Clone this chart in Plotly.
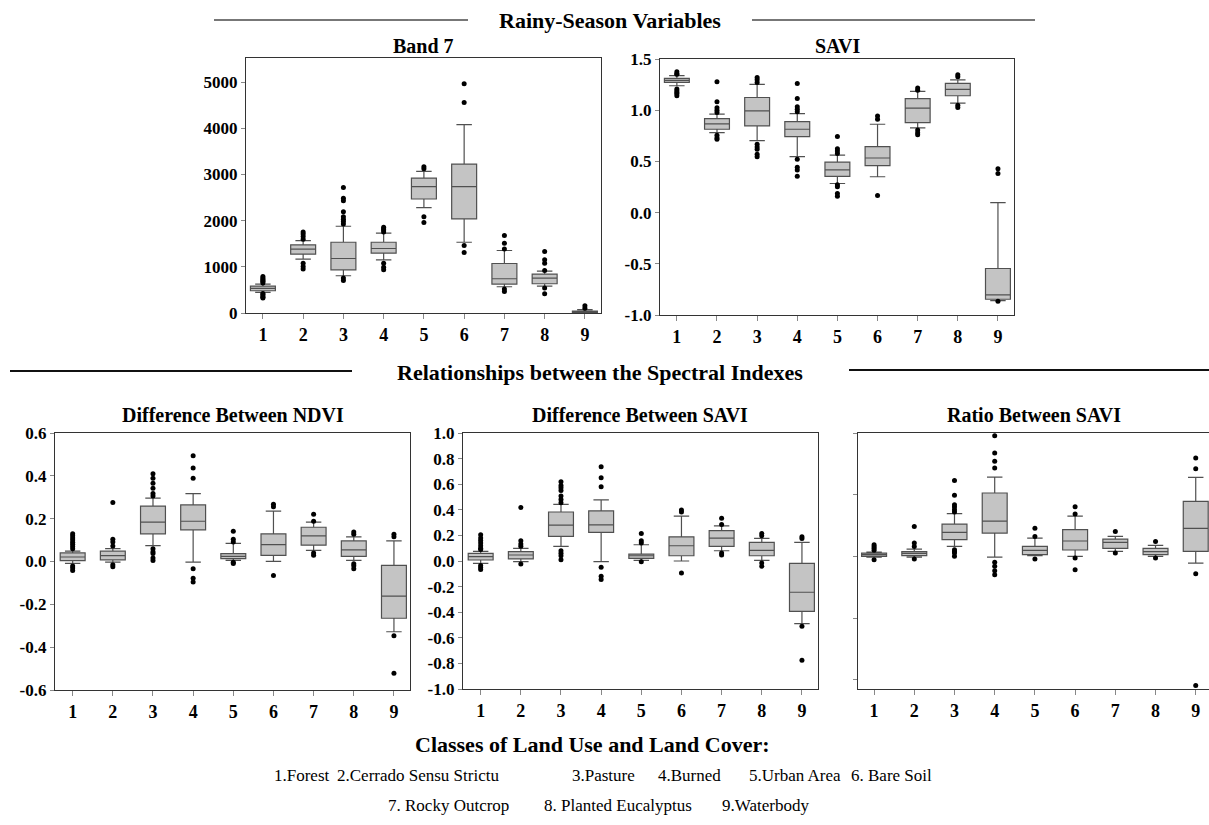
import plotly.graph_objects as go

classes = [1, 2, 3, 4, 5, 6, 7, 8, 9]
class_labels = ["1", "2", "3", "4", "5", "6", "7", "8", "9"]

# ---- Band 7 ----
b7_q1 = [482, 1273, 935, 1295, 2468, 2036, 626, 633, 7]
b7_med = [532, 1381, 1180, 1396, 2734, 2734, 741, 755, 22]
b7_q3 = [583, 1475, 1532, 1532, 2921, 3223, 1072, 842, 43]
b7_lo = [446, 1165, 806, 1151, 2281, 1532, 568, 583, 0]
b7_hi = [626, 1568, 1878, 1727, 3065, 4079, 1353, 906, 72]
b7_out = [
    [650, 680, 700, 730, 760, 791, 420, 400, 370, 340, 324],
    [1755, 1712, 1655, 1597, 1079, 1007, 950],
    [2719, 2482, 2432, 2194, 2086, 2029, 1978, 1928, 755, 705],
    [1856, 1820, 1799, 1755, 1079, 993, 935],
    [3165, 3122, 2086, 1957],
    [4964, 4554, 1460, 1309],
    [1676, 1511, 1388, 518, 468],
    [1331, 1151, 1079, 921, 540, 417],
    [158, 101],
]

# ---- SAVI ----
sv_q1 = [1.271, 0.814, 0.846, 0.742, 0.353, 0.458, 0.879, 1.141, -0.846]
sv_med = [1.291, 0.866, 0.993, 0.814, 0.418, 0.533, 1.020, 1.203, -0.804]
sv_q3 = [1.310, 0.918, 1.124, 0.889, 0.493, 0.644, 1.114, 1.261, -0.546]
sv_lo = [1.239, 0.781, 0.703, 0.546, 0.284, 0.350, 0.827, 1.069, -0.859]
sv_hi = [1.337, 0.961, 1.252, 0.967, 0.562, 0.863, 1.183, 1.297, 0.098]
sv_out = [
    [1.376, 1.356, 1.35, 1.206, 1.19, 1.173, 1.16, 1.141],
    [1.278, 1.082, 1.023, 1.0, 0.977, 0.755, 0.732, 0.716],
    [1.320, 1.297, 1.271, 0.667, 0.64, 0.618, 0.569, 0.546],
    [1.261, 1.114, 1.033, 1.010, 0.984, 0.520, 0.444, 0.415, 0.356],
    [0.742, 0.624, 0.601, 0.578, 0.271, 0.252, 0.186, 0.160],
    [0.944, 0.912, 0.167],
    [1.216, 1.196, 0.807, 0.781, 0.761],
    [1.346, 1.327, 1.049, 1.026],
    [0.428, 0.382, -0.866],
]

# ---- Difference Between NDVI ----
dn_q1 = [0.004, 0.008, 0.129, 0.148, 0.013, 0.029, 0.076, 0.024, -0.265]
dn_med = [0.021, 0.027, 0.184, 0.188, 0.024, 0.079, 0.120, 0.054, -0.162]
dn_q3 = [0.040, 0.048, 0.259, 0.264, 0.037, 0.129, 0.160, 0.096, -0.018]
dn_lo = [-0.009, -0.003, 0.074, -0.003, 0.005, 0.001, 0.052, 0.005, -0.328]
dn_hi = [0.048, 0.060, 0.296, 0.317, 0.085, 0.235, 0.184, 0.115, 0.096]
dn_out = [
    [0.13, 0.12, 0.11, 0.10, 0.09, 0.08, 0.07, 0.06, -0.021, -0.03, -0.042],
    [0.276, 0.104, 0.091, 0.072, -0.015, -0.024],
    [0.41, 0.389, 0.365, 0.342, 0.318, 0.306, 0.060, 0.045, 0.037, 0.016, 0.005],
    [0.494, 0.436, 0.389, -0.034, -0.078, -0.096],
    [0.141, 0.104, 0.091, -0.003, -0.009],
    [0.267, 0.256, -0.065],
    [0.221, 0.188, 0.040, 0.029],
    [0.138, 0.127, -0.010, -0.02, -0.034],
    [0.127, 0.115, -0.347, -0.522],
]

# ---- Difference Between SAVI ----
ds_q1 = [0.008, 0.016, 0.192, 0.223, 0.021, 0.041, 0.114, 0.041, -0.394]
ds_med = [0.034, 0.047, 0.280, 0.282, 0.041, 0.119, 0.179, 0.083, -0.244]
ds_q3 = [0.060, 0.073, 0.383, 0.391, 0.054, 0.189, 0.238, 0.145, -0.018]
ds_lo = [-0.018, -0.005, 0.114, -0.005, 0.005, 0.000, 0.080, 0.005, -0.490]
ds_hi = [0.075, 0.098, 0.443, 0.477, 0.127, 0.350, 0.275, 0.176, 0.145]
ds_out = [
    [0.205, 0.18, 0.16, 0.14, 0.12, 0.10, 0.09, -0.036, -0.05, -0.067],
    [0.417, 0.158, 0.132, 0.115, -0.023],
    [0.619, 0.59, 0.573, 0.55, 0.508, 0.48, 0.456, 0.080, 0.06, 0.041, 0.010],
    [0.736, 0.650, 0.580, -0.049, -0.119, -0.145],
    [0.215, 0.158, 0.140, -0.005],
    [0.399, 0.383, -0.093],
    [0.334, 0.285, 0.062, 0.047],
    [0.215, 0.197, -0.016, -0.041],
    [0.189, 0.176, -0.510, -0.775],
]

# ---- Ratio Between SAVI ----
rs_q1 = [0.0, 0.011, 0.270, 0.378, 0.027, 0.103, 0.130, 0.027, 0.081]
rs_med = [0.027, 0.049, 0.389, 0.573, 0.097, 0.249, 0.227, 0.076, 0.454]
rs_q3 = [0.054, 0.076, 0.524, 1.027, 0.162, 0.432, 0.281, 0.130, 0.892]
rs_lo = [-0.011, -0.011, 0.162, -0.011, 0.011, 0.0, 0.081, 0.0, -0.108]
rs_hi = [0.070, 0.119, 0.692, 1.286, 0.297, 0.654, 0.324, 0.178, 1.281]
rs_out = [
    [0.189, 0.16, 0.13, 0.10, -0.054],
    [0.486, 0.216, 0.162, -0.043],
    [1.232, 0.989, 0.838, 0.800, 0.757, 0.72, 0.108, 0.08, 0.054, 0.0],
    [1.957, 1.676, 1.541, 1.432, -0.097, -0.162, -0.232, -0.297],
    [0.454, 0.324, -0.043],
    [0.805, 0.686, -0.027, -0.216],
    [0.405, 0.054],
    [0.243, -0.027],
    [1.595, 1.422, -0.281, -2.092],
]

titles = ["Band 7", "SAVI", "Difference Between NDVI", "Difference Between SAVI", "Ratio Between SAVI"]
b7_ticks = [0, 1000, 2000, 3000, 4000, 5000]
sv_ticks = [-1.0, -0.5, 0.0, 0.5, 1.0, 1.5]
dn_ticks = [-0.6, -0.4, -0.2, 0.0, 0.2, 0.4, 0.6]
ds_ticks = [-1.0, -0.8, -0.6, -0.4, -0.2, 0.0, 0.2, 0.4, 0.6, 0.8, 1.0]
rs_ticks = [-2, -1, 0, 1, 2]

legend_heading = "Classes of Land Use and Land Cover:"
legend_row1 = ["1.Forest", "2.Cerrado Sensu Strictu", "3.Pasture", "4.Burned", "5.Urban Area", "6. Bare Soil"]
legend_row2 = ["7. Rocky Outcrop", "8. Planted Eucalyptus", "9.Waterbody"]
header1 = "Rainy-Season Variables"
header2 = "Relationships between the Spectral Indexes"

W, H = 1209, 825
def px(x):
    return x / W
def py(y):
    return 1 - y / H

panels = [
    dict(q1=b7_q1, med=b7_med, q3=b7_q3, lo=b7_lo, hi=b7_hi, out=b7_out, ticks=b7_ticks,
         fmt=lambda v: f"{v:d}", yr=[0, 5520], dom=(246, 601, 58, 313), labels=True, xr=[0.58, 9.4]),
    dict(q1=sv_q1, med=sv_med, q3=sv_q3, lo=sv_lo, hi=sv_hi, out=sv_out, ticks=sv_ticks,
         fmt=lambda v: f"{v:.1f}", yr=[-1.0, 1.5], dom=(660, 1014, 59, 315), labels=True, xr=[0.58, 9.4]),
    dict(q1=dn_q1, med=dn_med, q3=dn_q3, lo=dn_lo, hi=dn_hi, out=dn_out, ticks=dn_ticks,
         fmt=lambda v: f"{v:.1f}", yr=[-0.6, 0.6], dom=(55, 410, 433, 690), labels=True, xr=[0.56, 9.4]),
    dict(q1=ds_q1, med=ds_med, q3=ds_q3, lo=ds_lo, hi=ds_hi, out=ds_out, ticks=ds_ticks,
         fmt=lambda v: f"{v:.1f}", yr=[-1.0, 1.0], dom=(463, 818, 433, 689), labels=True, xr=[0.56, 9.4]),
    dict(q1=rs_q1, med=rs_med, q3=rs_q3, lo=rs_lo, hi=rs_hi, out=rs_out, ticks=rs_ticks,
         fmt=lambda v: "", yr=[-2.15, 2.0], dom=(858, 1209, 433, 689), labels=False, xr=[0.6, 9.33]),
]

SERIF = "Liberation Serif"
fig = go.Figure()
layout = dict(
    template="none",
    width=W, height=H, margin=dict(l=0, r=0, t=0, b=0, autoexpand=False),
    paper_bgcolor="white", plot_bgcolor="white", showlegend=False,
    boxmode="overlay",
)
annotations = []
shapes = []

for i, p in enumerate(panels):
    n = "" if i == 0 else str(i + 1)
    xa, ya = "x" + n, "y" + n
    fig.add_trace(go.Box(
        x=classes, q1=p["q1"], median=p["med"], q3=p["q3"],
        lowerfence=p["lo"], upperfence=p["hi"],
        boxpoints=False, width=0.62, whiskerwidth=0.62,
        fillcolor="#c4c4c4", line=dict(color="#505050", width=1.2),
        xaxis=xa, yaxis=ya, hoverinfo="skip",
    ))
    ox, oy = [], []
    for c, vals in zip(classes, p["out"]):
        for v in vals:
            ox.append(c)
            oy.append(v)
    fig.add_trace(go.Scatter(
        x=ox, y=oy, mode="markers", marker=dict(color="black", size=5, line=dict(width=0)),
        xaxis=xa, yaxis=ya, cliponaxis=False, hoverinfo="skip",
    ))
    x0, x1, y0, y1 = p["dom"]
    layout["xaxis" + n] = dict(
        domain=[px(x0), px(x1)], range=p["xr"], anchor=ya, automargin=False,
        tickmode="array", tickvals=classes, ticktext=class_labels,
        showline=True, linecolor="#333333", linewidth=1.2, mirror=True,
        ticks="outside", ticklen=5, tickcolor="#888888", showgrid=False, zeroline=False,
        tickfont=dict(family=SERIF, size=18, color="black", weight="bold"),
    )
    layout["yaxis" + n] = dict(
        domain=[py(y1), py(y0)], range=p["yr"], anchor=xa, automargin=False,
        tickmode="array", tickvals=p["ticks"], ticktext=[p["fmt"](v) for v in p["ticks"]],
        showticklabels=p["labels"],
        showline=True, linecolor="#333333", linewidth=1.2, mirror=True,
        ticks="outside", ticklen=4, tickcolor="#888888", showgrid=False, zeroline=False,
        tickfont=dict(family=SERIF, size=17, color="black", weight="bold"),
    )
    title_y = 46 if i < 2 else 415
    annotations.append(dict(
        text=titles[i], x=px((x0 + x1) / 2), y=py(title_y), xref="paper", yref="paper",
        xanchor="center", yanchor="middle", showarrow=False,
        font=dict(family=SERIF, size=20, color="black", weight="bold"),
    ))

# headers
annotations.append(dict(text=header1, x=px(610), y=py(20), xref="paper", yref="paper",
                        xanchor="center", yanchor="middle", showarrow=False,
                        font=dict(family=SERIF, size=22, color="black", weight="bold")))
annotations.append(dict(text=header2, x=px(600), y=py(372), xref="paper", yref="paper",
                        xanchor="center", yanchor="middle", showarrow=False,
                        font=dict(family=SERIF, size=22, color="black", weight="bold")))
for (a, b, yy, col, w) in [(214, 468, 20, "#777777", 2), (752, 1035, 20, "#777777", 2),
                           (10, 352, 371, "#111111", 2), (849, 1209, 370, "#111111", 2)]:
    shapes.append(dict(type="line", xref="paper", yref="paper", x0=px(a), x1=px(b),
                       y0=py(yy), y1=py(yy), line=dict(color=col, width=w)))

# legend text
annotations.append(dict(text=legend_heading, x=px(592), y=py(744), xref="paper", yref="paper",
                        xanchor="center", yanchor="middle", showarrow=False,
                        font=dict(family=SERIF, size=22, color="black", weight="bold")))
row1_x = [272, 335, 570, 656, 747, 849]
row2_x = [386, 542, 720]
for t, xx in zip(legend_row1, row1_x):
    annotations.append(dict(text=t, x=px(xx), y=py(775), xref="paper", yref="paper",
                            xanchor="left", yanchor="middle", showarrow=False,
                            font=dict(family=SERIF, size=17, color="black")))
for t, xx in zip(legend_row2, row2_x):
    annotations.append(dict(text=t, x=px(xx), y=py(805), xref="paper", yref="paper",
                            xanchor="left", yanchor="middle", showarrow=False,
                            font=dict(family=SERIF, size=17, color="black")))

layout["annotations"] = annotations
layout["shapes"] = shapes
fig.update_layout(**layout)
fig.write_html("out.html")
